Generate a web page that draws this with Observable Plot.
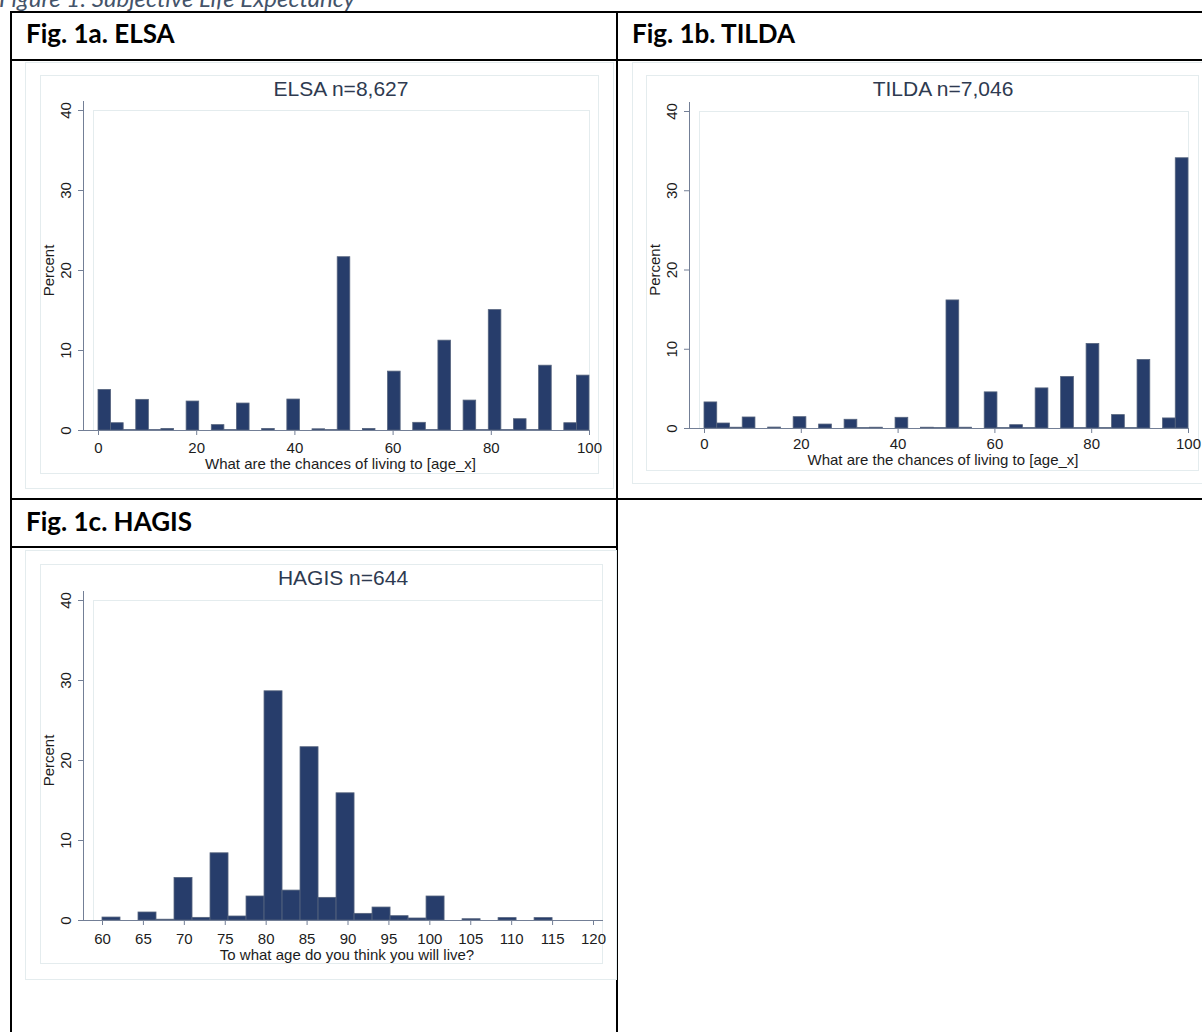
<!DOCTYPE html>
<html><head><meta charset="utf-8">
<script src="https://cdn.jsdelivr.net/npm/d3@7"></script>
<script src="https://cdn.jsdelivr.net/npm/@observablehq/plot@0.6"></script>
<style>
html,body{margin:0;padding:0;background:#fff;}
body{width:1202px;height:1032px;overflow:hidden;position:relative;font-family:"Liberation Sans",Arial,sans-serif;}
.line{position:absolute;background:#000;}
.hdr{position:absolute;font-family:Lato,"Noto Sans",sans-serif;font-weight:bold;font-size:26px;color:#000;line-height:26px;white-space:nowrap;}
.faint{position:absolute;border:1px solid #e4ecee;box-sizing:border-box;}
.ttl{position:absolute;font-size:21px;color:#2e3a50;text-align:center;width:300px;line-height:21px;white-space:nowrap;font-family:"Liberation Sans",Arial,sans-serif;}
.chart{position:absolute;}
.chart svg, .chart svg text{font-family:"Liberation Sans",Arial,sans-serif !important;}
.cap{position:absolute;left:-1px;top:-14px;font-family:Lato,"Noto Sans",sans-serif;font-style:italic;font-size:24px;line-height:24px;color:#44546a;white-space:nowrap;}
</style></head><body>
<div class="cap">Figure 1: Subjective Life Expectancy</div>

<!-- table borders -->
<div class="line" style="left:10px;top:11px;width:1200px;height:2px"></div>
<div class="line" style="left:10px;top:11px;width:2px;height:1030px"></div>
<div class="line" style="left:616px;top:11px;width:2px;height:1030px"></div>
<div class="line" style="left:10px;top:59px;width:1200px;height:2px"></div>
<div class="line" style="left:10px;top:498px;width:1200px;height:2px"></div>
<div class="line" style="left:10px;top:546px;width:608px;height:2px"></div>

<div class="hdr" style="left:26px;top:20px">Fig. 1a. ELSA</div>
<div class="hdr" style="left:632px;top:20px">Fig. 1b. TILDA</div>
<div class="hdr" style="left:26px;top:508px">Fig. 1c. HAGIS</div>

<!-- image frames and graph regions -->
<div class="faint" style="left:25px;top:62px;width:589px;height:427px"></div>
<div class="faint" style="left:40px;top:75px;width:559px;height:399px"></div>
<div class="faint" style="left:632px;top:62px;width:590px;height:422px"></div>
<div class="faint" style="left:646px;top:75px;width:553px;height:396px"></div>
<div class="faint" style="left:25px;top:550px;width:592px;height:430px"></div>
<div class="faint" style="left:40px;top:564px;width:563px;height:400px"></div>

<div class="ttl" style="left:191px;top:78px">ELSA n=8,627</div>
<div class="ttl" style="left:793px;top:78px">TILDA n=7,046</div>
<div class="ttl" style="left:193px;top:567px">HAGIS n=644</div>

<div id="elsa" class="chart" style="left:40px;top:75px"></div>
<div id="tilda" class="chart" style="left:646px;top:75px"></div>
<div id="hagis" class="chart" style="left:40px;top:564px"></div>

<script>
// ---- data: percent per histogram bin ----
// ELSA: 39 bins of equal width from 0 to 100
const elsaPercent = [5.07,0.91,0.05,3.83,0.05,0.2,0,3.62,0,0.67,0.05,3.37,0,0.2,0,3.87,0,0.15,0.05,21.66,0,0.2,0,7.36,0,0.96,0.05,11.23,0,3.74,0.05,15.05,0.05,1.41,0.05,8.1,0,0.91,6.86];
const elsaRange = [0, 100];
// TILDA: 38 bins of equal width from 0 to 100
const tildaPercent = [3.29,0.63,0.1,1.39,0,0.12,0,1.43,0,0.5,0,1.1,0.05,0.1,0,1.35,0,0.1,0.05,16.16,0.1,0,4.56,0.05,0.42,0.05,5.06,0,6.5,0.05,10.67,0.05,1.69,0.05,8.65,0,1.27,34.1];
const tildaRange = [0, 100];
// HAGIS: 25 bins of equal width from 60 to 115
const hagisPercent = [0.37,0,1.0,0.1,5.32,0.33,8.4,0.5,3.0,28.65,3.74,21.66,2.83,15.9,0.83,1.62,0.54,0.25,3.0,0,0.16,0,0.3,0,0.3];
const hagisRange = [60, 115];

const chanceTicks = [0, 20, 40, 60, 80, 100];
const ageTicks = [60, 65, 70, 75, 80, 85, 90, 95, 100, 105, 110, 115, 120];
const percentTicks = [0, 10, 20, 30, 40];
const chanceLabel = "What are the chances of living to [age_x]";
const ageLabel = "To what age do you think you will live?";

const barFill = "#273d6b", barStroke = "#56647e", axisColor = "#737f96", textColor = "#1c1c1c", faint = "#e4ecee";
const font = "'Liberation Sans', Arial, sans-serif";
const fs = 15;

function bins(percent, range) {
  const w = (range[1] - range[0]) / percent.length;
  return percent.map((p, i) => ({x1: range[0] + i * w, x2: range[0] + (i + 1) * w, pct: p}));
}

function histo(o) {
  return Plot.plot({
    width: o.w, height: o.h,
    marginLeft: o.mL, marginRight: o.mR, marginTop: o.mT, marginBottom: o.mB,
    x: {domain: o.domain, insetLeft: o.iL, insetRight: o.iR || 0},
    y: {domain: [0, 40]},
    style: {fontFamily: font, fontSize: fs + "px", background: "transparent", overflow: "visible"},
    marks: [
      Plot.frame({stroke: faint, insetLeft: 10}),
      Plot.rectY(o.data, {x1: "x1", x2: "x2", y: "pct", fill: barFill, stroke: barStroke, strokeWidth: 0.8}),
      Plot.frame({anchor: "left", stroke: axisColor, insetTop: -9}),
      Plot.frame({anchor: "bottom", stroke: axisColor}),
      Plot.axisY({ticks: percentTicks, tickSize: 5, tickRotate: -90, tickPadding: 8, stroke: axisColor, fill: textColor,
                  label: "Percent", labelAnchor: "center", labelArrow: "none", labelOffset: 40, fontSize: fs, fontFamily: font}),
      Plot.axisX({ticks: o.ticks, tickSize: 5, tickPadding: o.tp, tickFormat: d => String(d), stroke: axisColor, fill: textColor, label: null, fontSize: fs, fontFamily: font}),
      Plot.text([o.xLabel], {frameAnchor: "bottom", dy: o.ld, dx: 4, lineAnchor: "bottom", fontSize: fs, fill: textColor, fontFamily: font})
    ]
  });
}

document.getElementById("elsa").append(histo({
  data: bins(elsaPercent, elsaRange), domain: [0, 100], ticks: chanceTicks, xLabel: chanceLabel,
  w: 558, h: 398, mL: 43, iL: 15, mR: 9, mT: 35, mB: 43, tp: 7, ld: 38
}));
document.getElementById("tilda").append(histo({
  data: bins(tildaPercent, tildaRange), domain: [0, 100], ticks: chanceTicks, xLabel: chanceLabel,
  w: 552, h: 395, mL: 43, iL: 15, mR: 10, mT: 36, mB: 42, tp: 5, ld: 36
}));
document.getElementById("hagis").append(histo({
  data: bins(hagisPercent, hagisRange), domain: [60, 120], ticks: ageTicks, xLabel: ageLabel,
  w: 562, h: 399, mL: 43, iL: 19, mR: 0, iR: 9, mT: 36, mB: 43, tp: 8, ld: 39
}));
</script>
</body></html>
